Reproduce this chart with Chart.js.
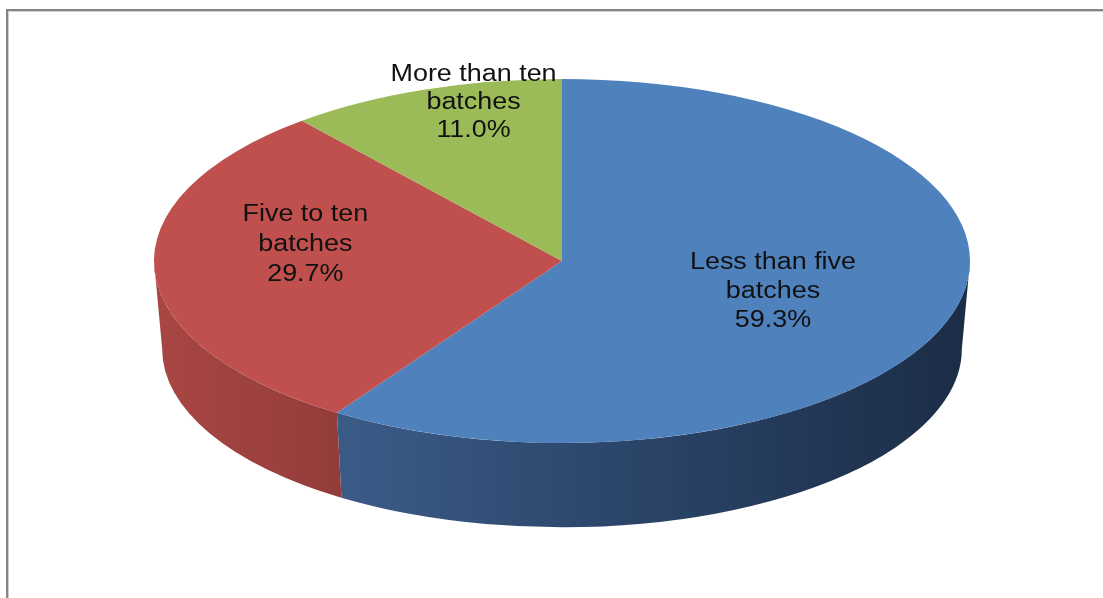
<!DOCTYPE html>
<html>
<head>
<meta charset="utf-8">
<script src="https://cdn.jsdelivr.net/npm/chart.js@4.4.1/dist/chart.umd.min.js"></script>
<style>
	html, body { margin: 0; padding: 0; background: #fff; }
	#wrap { width: 1103px; height: 598px; }
</style>
</head>
<body>
<div id="wrap"><canvas id="myChart" width="1103" height="598"></canvas></div>
<script>
// batch counts, share of respondents (%)
var categories = ["Less than five batches", "Five to ten batches", "More than ten batches"];
var labelLines = [
	["Less than five", "batches"],
	["Five to ten", "batches"],
	["More than ten", "batches"],
];
var shares = [59.3, 29.7, 11.0];

var topColors = ["#4f81bd", "#c0504d", "#9bbb59"];
// side wall shading, left to right across the pie
var sideStops = [
	[[0, "#46699a"], [0.5, "#2e4a70"], [1, "#1b2c46"]],
	[[0, "#a94643"], [0.2, "#953e3c"], [1, "#5a2423"]],
	[[0, "#7c9647"], [1, "#4e5e2c"]],
];

// squashes the flat pie into a tilted disc and adds the rim underneath
var pie3d = {
	id: "pie3d",
	beforeDraw: function (chart) {
		var ctx = chart.ctx;
		ctx.save();
		ctx.fillStyle = "#858585";
		ctx.fillRect(6, 9, 2, 589);
		ctx.fillRect(6, 9, 1097, 2);
		ctx.fillStyle = "#cfcfcf";
		ctx.fillRect(8, 11, 1, 587);
		ctx.fillRect(8, 11, 1095, 1);
		ctx.restore();
	},
	beforeDatasetsDraw: function (chart, args, opts) {
		var ctx = chart.ctx;
		var g = opts.geo;
		var arcs = chart.getDatasetMeta(0).data;
		var rx2 = g.rx * g.shrink, ry2 = g.ry * g.shrink;

		arcs.forEach(function (arc, i) {
			var lo = Math.max(arc.startAngle, 0);
			var hi = Math.min(arc.endAngle, Math.PI);
			if (hi <= lo) return;
			var grad = ctx.createLinearGradient(g.cx - g.rx, 0, g.cx + g.rx, 0);
			sideStops[i].forEach(function (s) { grad.addColorStop(s[0], s[1]); });
			ctx.beginPath();
			ctx.ellipse(g.cx, g.cy, g.rx, g.ry, 0, lo, hi);
			ctx.ellipse(g.cx, g.cy + g.depth, rx2, ry2, 0, hi, lo, true);
			ctx.closePath();
			ctx.fillStyle = grad;
			ctx.fill();
		});

		var ref = arcs[0];
		ctx.save();
		ctx.translate(g.cx, g.cy);
		ctx.scale(g.rx / ref.outerRadius, g.ry / ref.outerRadius);
		ctx.translate(-ref.x, -ref.y);
	},
	afterDatasetsDraw: function (chart, args, opts) {
		var ctx = chart.ctx;
		var g = opts.geo;
		ctx.restore();

		var arcs = chart.getDatasetMeta(0).data;
		ctx.save();
		ctx.fillStyle = "#111";
		ctx.font = "23px 'Liberation Sans', Arial, sans-serif";
		ctx.textAlign = "center";
		ctx.textBaseline = "middle";
		arcs.forEach(function (arc, i) {
			var mid = (arc.startAngle + arc.endAngle) / 2;
			var lp = opts.labelAt[i];
			var x = g.cx + lp.r * g.rx * Math.cos(mid);
			var y = g.cy + lp.r * g.ry * Math.sin(mid) + lp.dy;
			var lines = labelLines[i].concat([shares[i].toFixed(1) + "%"]);
			ctx.save();
			ctx.translate(x, y);
			ctx.scale(1.17, 1);
			lines.forEach(function (t, k) {
				ctx.fillText(t, 0, (k - 1) * lp.lh);
			});
			ctx.restore();
		});
		ctx.restore();
	},
};

var ctx = document.getElementById("myChart").getContext("2d");
var myChart = new Chart(ctx, {
	type: "pie",
	data: {
		labels: categories,
		datasets: [
			{
				data: shares,
				backgroundColor: topColors,
				borderWidth: 0,
				clip: false,
			},
		],
	},
	options: {
		responsive: false,
		animation: false,
		events: [],
		plugins: {
			legend: { display: false },
			tooltip: { enabled: false },
			pie3d: {
				geo: { cx: 562, cy: 261, rx: 408, ry: 182, depth: 88, shrink: 0.98 },
				labelAt: [
					{ r: 0.54, dy: 2, lh: 29 },
					{ r: 0.63, dy: -22, lh: 30 },
					{ r: 0.64, dy: -49, lh: 28 },
				],
			},
		},
	},
	plugins: [pie3d],
});
</script>
</body>
</html>
